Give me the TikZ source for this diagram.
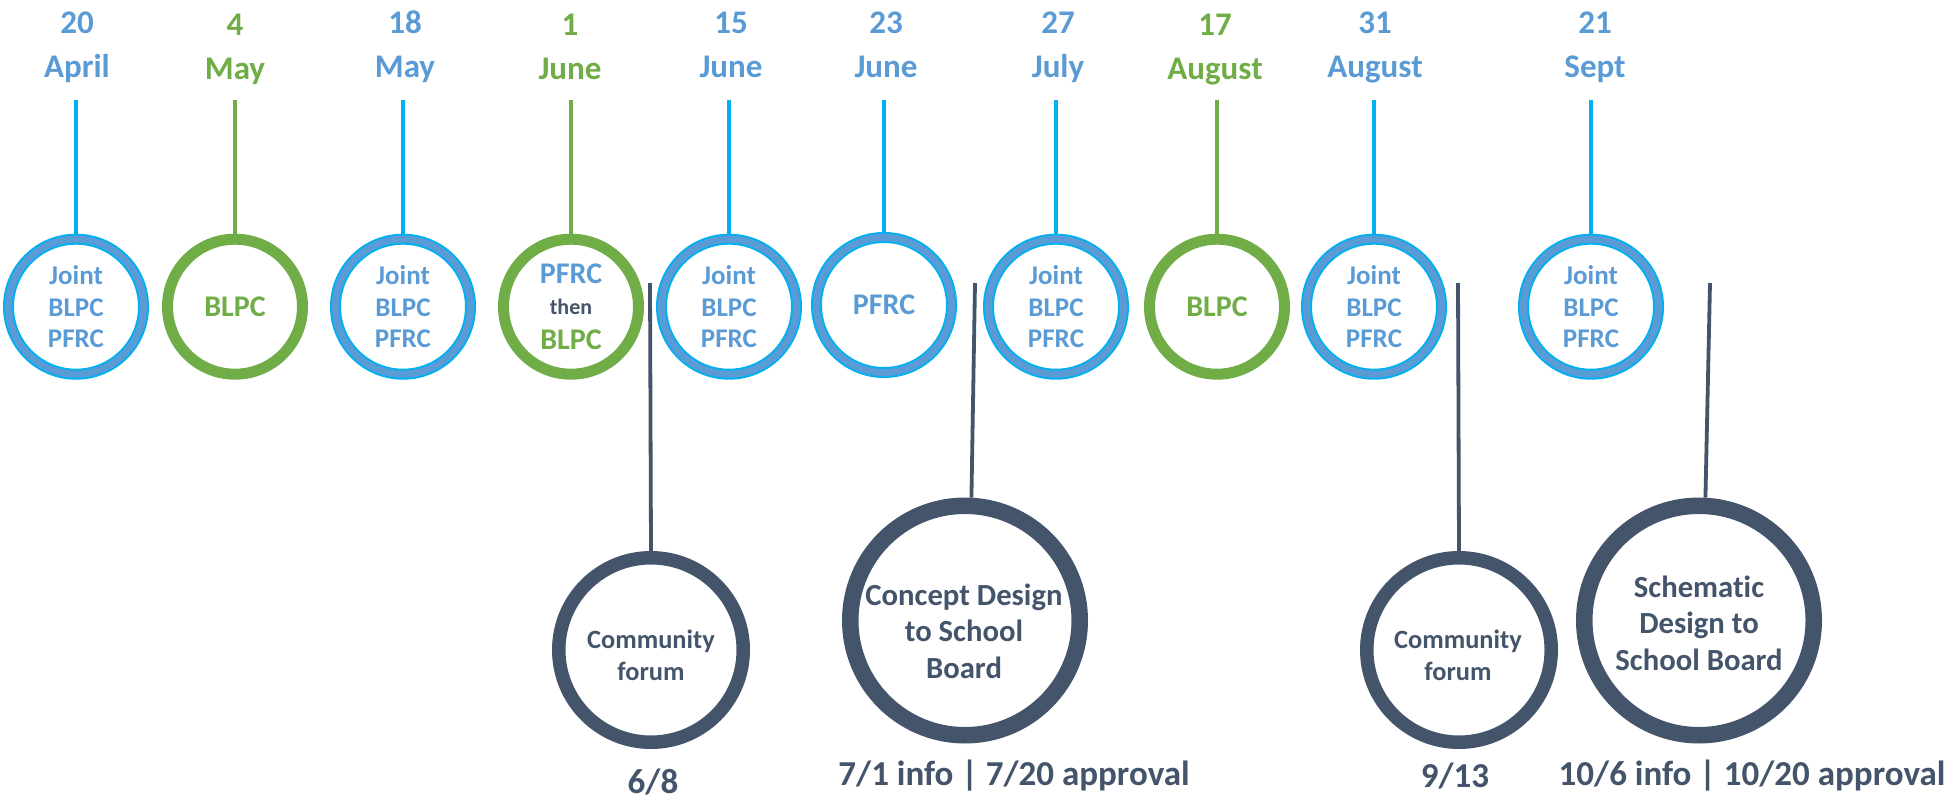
\documentclass[tikz,border=0pt]{standalone}
\usepackage{fontspec}
\setmainfont{Carlito}[Ligatures=NoCommon]
\definecolor{tblue}{HTML}{5B9BD5}
\definecolor{tcyan}{HTML}{00B0F0}
\definecolor{tgreen}{HTML}{70AD47}
\definecolor{tdark}{HTML}{44546A}
\begin{document}
\begin{tikzpicture}[x=1pt,y=-1pt,
  datelbl/.style={anchor=base, inner sep=0pt, font=\fontsize{33}{38}\selectfont\bfseries},
  bluedate/.style={datelbl, text=tblue},
  greendate/.style={datelbl, text=tgreen},
  bluering/.style={circle, draw=tcyan, line width=2pt, double=tblue, double distance=7pt,
    minimum size=135pt, inner sep=0pt, outer sep=5.5pt, text=tblue, align=center,
    font=\fontsize{27}{31.5}\selectfont\bfseries},
  greenring/.style={circle, draw=tgreen, line width=11pt, minimum size=135pt, inner sep=0pt,
    text=tgreen, align=center, font=\fontsize{30}{33}\selectfont\bfseries},
  forumring/.style={circle, draw=tdark, line width=13.5pt, minimum size=184.5pt, inner sep=0pt},
  bigring/.style={circle, draw=tdark, line width=16.5pt, minimum size=229.5pt, inner sep=0pt},
  forumtext/.style={text=tdark, align=center, inner sep=0pt, font=\fontsize{26.4}{32}\selectfont\bfseries},
  bigtext/.style={text=tdark, align=center, inner sep=0pt, font=\fontsize{30.7}{36.5}\selectfont\bfseries},
  bottomlbl/.style={anchor=base, inner sep=0pt, text=tdark, font=\fontsize{35}{40}\selectfont\bfseries},
  cyanline/.style={draw=tcyan, line width=4pt},
  greenline/.style={draw=tgreen, line width=4pt},
  darkline/.style={draw=tdark, line width=3.8pt}
]
\fill[white] (0,0) rectangle (1954,800);
\useasboundingbox (0,0) rectangle (1954,800);

% ---- dates ----
\node[bluedate]  (n1)  at (77,33.5)   {20};     \node[bluedate]  (m1)  at (77,77.5)   {April};
\node[greendate] (n2)  at (235,35.5)  {4};      \node[greendate] (m2)  at (235,79)    {May};
\node[bluedate]  (n3)  at (405,33.5)  {18};     \node[bluedate]  (m3)  at (405,77.5)  {May};
\node[greendate] (n4)  at (570,35.5)  {1};      \node[greendate] (m4)  at (570,79)    {June};
\node[bluedate]  (n5)  at (731,33.5)  {15};     \node[bluedate]  (m5)  at (731,77.5)  {June};
\node[bluedate]  (n6)  at (886,33.5)  {23};     \node[bluedate]  (m6)  at (886,77.5)  {June};
\node[bluedate]  (n7)  at (1058,33.5) {27};     \node[bluedate]  (m7)  at (1058,77.5) {July};
\node[greendate] (n8)  at (1215,35.5) {17};     \node[greendate] (m8)  at (1215,79)   {August};
\node[bluedate]  (n9)  at (1375,33.5) {31};     \node[bluedate]  (m9)  at (1375,77.5) {August};
\node[bluedate]  (n10) at (1595,33.5) {21};     \node[bluedate]  (m10) at (1595,77.5) {Sept};

% ---- meeting circles ----
\node[bluering]  (c1)  at (76,306.7)   {Joint\\BLPC\\PFRC};
\node[greenring] (c2)  at (235,306.7)  {BLPC};
\node[bluering]  (c3)  at (403,306.7)  {Joint\\BLPC\\PFRC};
\node[greenring] (c4)  at (571,306.7)  {\textcolor{tblue}{PFRC}\\[-2pt]{\fontsize{22}{22}\selectfont\textcolor{tdark}{then}}\\[2.5pt]BLPC};
\node[bluering]  (c5)  at (729,306.7)  {Joint\\BLPC\\PFRC};
\node[bluering, font=\fontsize{30}{33}\selectfont\bfseries] (c6) at (884,305) {PFRC};
\node[bluering]  (c7)  at (1056,306.7) {Joint\\BLPC\\PFRC};
\node[greenring] (c8)  at (1217,306.7) {BLPC};
\node[bluering]  (c9)  at (1374,306.7) {Joint\\BLPC\\PFRC};
\node[bluering]  (c10) at (1591,306.7) {Joint\\BLPC\\PFRC};

% ---- stems from dates to circles ----
\coordinate (t1)  at (76,100);   \draw[cyanline]  (t1)  -- (c1.north);
\coordinate (t2)  at (235,100);  \draw[greenline] (t2)  -- (c2.north);
\coordinate (t3)  at (403,100);  \draw[cyanline]  (t3)  -- (c3.north);
\coordinate (t4)  at (571,100);  \draw[greenline] (t4)  -- (c4.north);
\coordinate (t5)  at (729,100);  \draw[cyanline]  (t5)  -- (c5.north);
\coordinate (t6)  at (884,100);  \draw[cyanline]  (t6)  -- (c6.north);
\coordinate (t7)  at (1056,100); \draw[cyanline]  (t7)  -- (c7.north);
\coordinate (t8)  at (1217,100); \draw[greenline] (t8)  -- (c8.north);
\coordinate (t9)  at (1374,100); \draw[cyanline]  (t9)  -- (c9.north);
\coordinate (t10) at (1591,100); \draw[cyanline]  (t10) -- (c10.north);

% ---- lower milestones ----
\node[forumring] (f1) at (651,650) {};
\node[forumtext] (f1t) at (651,655) {Community\\forum};
\node[bigring]   (b1) at (965,620.5) {};
\node[bigtext]   (b1t) at (964,631) {Concept Design\\to School\\Board};
\node[forumring] (f2) at (1459,650) {};
\node[forumtext] (f2t) at (1458,655) {Community\\forum};
\node[bigring]   (b2) at (1699,620.5) {};
\node[bigtext]   (b2t) at (1699,623) {Schematic\\Design to\\School Board};

\coordinate (f1top) at (650,283);  \draw[darkline] (f1top) -- (f1.north);
\coordinate (b1top) at (975,283);  \draw[darkline] (b1top) -- (b1.87);
\coordinate (f2top) at (1458,283); \draw[darkline] (f2top) -- (f2.north);
\coordinate (b2top) at (1710,283); \draw[darkline] (b2top) -- (b2.87);

% ---- bottom dates ----
\node[bottomlbl] (l1) at (653,793)  {6/8};
\node[bottomlbl] (l2) at (1014,785) {7/1 info | 7/20 approval};
\node[bottomlbl] (l3) at (1455,787) {9/13};
\node[bottomlbl] (l4) at (1752,785) {10/6 info | 10/20 approval};
\end{tikzpicture}
\end{document}
